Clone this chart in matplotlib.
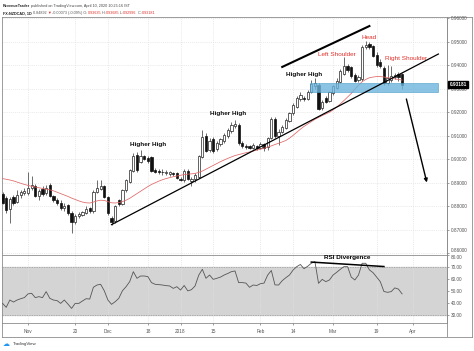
import numpy as np
import pandas as pd
import matplotlib
matplotlib.use("Agg")
import matplotlib.pyplot as plt
from matplotlib.patches import Rectangle

plt.rcParams['font.family'] = ['Liberation Sans', 'DejaVu Sans']

# forex daily bars (weekdays, no bar on Christmas / New Year)
days = pd.bdate_range("2017-10-23", "2018-04-13")
days = days.drop([pd.Timestamp("2017-12-25"), pd.Timestamp("2018-01-01")])

opens = [0.8852, 0.8834, 0.8790, 0.8841, 0.8820, 0.8848, 0.8855, 0.8858, 0.8876, 0.8885,
         0.8845, 0.8875, 0.8855, 0.8890, 0.8842, 0.8828, 0.8815, 0.8792, 0.8805, 0.8772,
         0.8735, 0.8760, 0.8765, 0.8773, 0.8792, 0.8778, 0.8862, 0.8875, 0.8885, 0.8840,
         0.8752, 0.8738, 0.8826, 0.8810, 0.8868, 0.8905, 0.8950, 0.9018, 0.8990, 0.9012,
         0.9005, 0.9008, 0.8955, 0.8952, 0.8948, 0.8940, 0.8936, 0.8942, 0.8940, 0.8918,
         0.8912, 0.8950, 0.8908, 0.8915, 0.8925, 0.9010, 0.9098, 0.9040, 0.9085, 0.9042,
         0.9065, 0.9078, 0.9098, 0.9120, 0.9140, 0.9148, 0.9070, 0.9058, 0.9055, 0.9050,
         0.9058, 0.9048, 0.9064, 0.9052, 0.9090, 0.9172, 0.9100, 0.9118, 0.9135, 0.9165,
         0.9195, 0.9224, 0.9255, 0.9262, 0.9258, 0.9285, 0.9310, 0.9318, 0.9218, 0.9262,
         0.9250, 0.9282, 0.9305, 0.9330, 0.9365, 0.9395, 0.9392, 0.9360, 0.9338, 0.9340,
         0.9478, 0.9490, 0.9480, 0.9445, 0.9415, 0.9390, 0.9325, 0.9338, 0.9350, 0.9362,
         0.93635]
highs = [0.8860, 0.8845, 0.8838, 0.8850, 0.8869, 0.8870, 0.8880, 0.8947, 0.8930, 0.8895,
         0.8872, 0.8885, 0.8890, 0.8898, 0.8850, 0.8835, 0.8825, 0.8815, 0.8810, 0.8778,
         0.8768, 0.8775, 0.8782, 0.8800, 0.8798, 0.8870, 0.8912, 0.8912, 0.8892, 0.8845,
         0.8760, 0.8806, 0.8832, 0.8875, 0.8918, 0.8960, 0.9025, 0.9030, 0.9040, 0.9020,
         0.9015, 0.9012, 0.8962, 0.8960, 0.8958, 0.8955, 0.8950, 0.8948, 0.8945, 0.8925,
         0.8960, 0.8958, 0.8925, 0.8940, 0.9020, 0.9125, 0.9110, 0.9090, 0.9095, 0.9078,
         0.9092, 0.9112, 0.9135, 0.9160, 0.9167, 0.9155, 0.9078, 0.9065, 0.9062, 0.9068,
         0.9062, 0.9072, 0.9070, 0.9096, 0.9180, 0.9182, 0.9128, 0.9148, 0.9175, 0.9203,
         0.9240, 0.9270, 0.9285, 0.9270, 0.9295, 0.9337, 0.9345, 0.9325, 0.9252, 0.9270,
         0.9292, 0.9318, 0.9345, 0.9385, 0.9435, 0.9405, 0.9398, 0.9368, 0.9358, 0.9485,
         0.9505, 0.9500, 0.9488, 0.9458, 0.9425, 0.9398, 0.9402, 0.9395, 0.9368, 0.9370,
         0.93685]
lows = [0.8808, 0.8770, 0.8728, 0.8805, 0.8812, 0.8835, 0.8848, 0.8850, 0.8870, 0.8838,
        0.8828, 0.8845, 0.8848, 0.8838, 0.8820, 0.8805, 0.8785, 0.8782, 0.8765, 0.8686,
        0.8725, 0.8752, 0.8758, 0.8768, 0.8772, 0.8770, 0.8855, 0.8870, 0.8835, 0.8765,
        0.8722, 0.8730, 0.8800, 0.8805, 0.8860, 0.8898, 0.8945, 0.8948, 0.8985, 0.8995,
        0.8985, 0.8945, 0.8940, 0.8938, 0.8935, 0.8932, 0.8928, 0.8928, 0.8915, 0.8908,
        0.8905, 0.8912, 0.8885, 0.8905, 0.8920, 0.9005, 0.9030, 0.9030, 0.9028, 0.9035,
        0.9055, 0.9070, 0.9090, 0.9112, 0.9132, 0.9062, 0.9050, 0.9045, 0.9042, 0.9045,
        0.9040, 0.9043, 0.9035, 0.9040, 0.9085, 0.9092, 0.9062, 0.9110, 0.9130, 0.9160,
        0.9190, 0.9220, 0.9250, 0.9248, 0.9252, 0.9280, 0.9298, 0.9208, 0.9210, 0.9238,
        0.9245, 0.9275, 0.9300, 0.9325, 0.9358, 0.9370, 0.9348, 0.9328, 0.9330, 0.9335,
        0.9470, 0.9470, 0.9435, 0.9392, 0.9388, 0.9318, 0.9318, 0.9330, 0.9340, 0.9335,
        0.92996]
closes = [0.8815, 0.8784, 0.8830, 0.8813, 0.8848, 0.8862, 0.8866, 0.8880, 0.8889, 0.8845,
          0.8866, 0.8852, 0.8880, 0.8842, 0.8828, 0.8812, 0.8792, 0.8802, 0.8772, 0.8732,
          0.8760, 0.8768, 0.8775, 0.8790, 0.8780, 0.8862, 0.8880, 0.8888, 0.8840, 0.8772,
          0.8735, 0.8800, 0.8810, 0.8868, 0.8910, 0.8954, 0.9015, 0.8954, 0.9012, 0.9000,
          0.8992, 0.8950, 0.8948, 0.8946, 0.8944, 0.8946, 0.8944, 0.8936, 0.8920, 0.8914,
          0.8952, 0.8918, 0.8915, 0.8932, 0.9012, 0.9095, 0.9035, 0.9080, 0.9035, 0.9070,
          0.9085, 0.9102, 0.9125, 0.9146, 0.9152, 0.9068, 0.9058, 0.9052, 0.9050, 0.9060,
          0.9048, 0.9066, 0.9050, 0.9090, 0.9172, 0.9100, 0.9118, 0.9139, 0.9167, 0.9196,
          0.9231, 0.9260, 0.9274, 0.9255, 0.9288, 0.9320, 0.9325, 0.9215, 0.9245, 0.9245,
          0.9285, 0.9310, 0.9335, 0.9375, 0.9395, 0.9380, 0.9355, 0.9335, 0.9350, 0.9478,
          0.9488, 0.9478, 0.9440, 0.9400, 0.9395, 0.9325, 0.9345, 0.9355, 0.9360, 0.9350,
          0.93181]
ma20 = [0.8918, 0.8915, 0.8912, 0.8908, 0.8903, 0.8898, 0.8893, 0.8889, 0.8885, 0.8882,
        0.8879, 0.8876, 0.8873, 0.8870, 0.8866, 0.8860, 0.8854, 0.8848, 0.8842, 0.8835,
        0.8829, 0.8823, 0.8818, 0.8815, 0.8814, 0.8818, 0.8823, 0.8826, 0.8825, 0.8820,
        0.8815, 0.8814, 0.8816, 0.8820, 0.8826, 0.8834, 0.8844, 0.8854, 0.8864, 0.8874,
        0.8884, 0.8893, 0.8900, 0.8907, 0.8913, 0.8918, 0.8922, 0.8926, 0.8929, 0.8932,
        0.8935, 0.8937, 0.8938, 0.8940, 0.8944, 0.8950, 0.8958, 0.8966, 0.8974, 0.8982,
        0.8990, 0.8997, 0.9004, 0.9010, 0.9016, 0.9020, 0.9024, 0.9028, 0.9031, 0.9035,
        0.9039, 0.9043, 0.9047, 0.9052, 0.9057, 0.9063, 0.9068, 0.9074, 0.9080, 0.9090,
        0.9102, 0.9115, 0.9128, 0.9140, 0.9150, 0.9160, 0.9170, 0.9178, 0.9186, 0.9193,
        0.9200, 0.9210, 0.9222, 0.9236, 0.9250, 0.9265, 0.9280, 0.9298, 0.9315, 0.9330,
        0.9340, 0.9347, 0.9350, 0.9352, 0.9352, 0.9350, 0.9348, 0.9345, 0.9342, 0.9340,
        0.9337]
rsi_vals = [40.1, 36.8, 42.9, 41.2, 42.9, 44.0, 44.9, 48.0, 48.5, 44.9,
            45.7, 44.9, 49.9, 44.3, 42.9, 42.4, 40.1, 42.9, 39.5, 35.9,
            40.1, 40.1, 42.1, 44.0, 43.7, 53.5, 55.4, 56.0, 50.6, 42.9,
            39.3, 41.5, 44.3, 50.6, 54.0, 58.2, 66.5, 61.0, 62.9, 62.9,
            62.4, 57.4, 56.0, 55.7, 55.4, 54.9, 54.6, 52.6, 54.0, 51.2,
            55.0, 50.5, 51.5, 54.6, 63.5, 68.5, 61.0, 63.7, 60.1, 61.0,
            62.0, 63.7, 65.0, 66.5, 67.1, 57.4, 57.4, 57.0, 53.5, 55.4,
            55.0, 56.5, 57.0, 63.7, 67.5, 55.5, 55.4, 59.0, 61.5, 63.7,
            67.9, 70.7, 72.5, 69.0, 71.0, 73.5, 74.9, 56.8, 60.1, 58.2,
            59.6, 63.7, 66.0, 68.5, 70.7, 70.7, 62.0, 59.6, 63.7, 73.5,
            73.5, 68.0, 65.7, 62.0, 58.2, 50.0, 49.3, 49.9, 53.0, 52.0,
            48.0]

price_ticks = [0.86, 0.87, 0.88, 0.89, 0.90, 0.91, 0.92, 0.93, 0.94, 0.95, 0.96]
rsi_ticks = [30, 40, 50, 60, 70, 80]
date_ticks = ["2017-11-01", "2017-11-20", "2017-12-01", "2017-12-18", "2018-01-02", "2018-01-15",
              "2018-02-01", "2018-02-14", "2018-03-01", "2018-03-19", "2018-04-02"]
date_labels = ["Nov", "20", "Dec", "18", "2018", "15", "Feb", "14", "Mar", "19", "Apr"]

# drawings on the chart (date, value)
trend_lower = (["2017-12-04", "2018-04-11"], [0.8722, 0.9448])
trend_upper = (["2018-02-09", "2018-03-15"], [0.9393, 0.9567])
arrow_down = (["2018-03-29", "2018-04-06"], [0.9268, 0.8890])
zone_days = ["2018-02-21", "2018-04-11"]
zone_prices = [0.9286, 0.9325]
rsi_div = (["2018-02-21", "2018-03-21"], [74.5, 70.8])
notes = [("Higher High", "2017-12-18", 0.9065, "#111111", "bold"),
         ("Higher High", "2018-01-19", 0.9197, "#111111", "bold"),
         ("Higher High", "2018-02-19", 0.9359, "#111111", "bold"),
         ("Left Shoulder", "2018-03-02", 0.9448, "#e0302a", "normal"),
         ("Head", "2018-03-15", 0.9520, "#e0302a", "normal"),
         ("Right Shoulder", "2018-03-29", 0.9431, "#e0302a", "normal")]

header1 = [("RevenueTrader", "#222222", "bold"),
           (" published on TradingView.com, April 10, 2020 10:25:16 IST", "#444444", "normal")]
header2 = [("FX:NZDCAD, 1D", "#222222", "bold"), (" 0.84892 ", "#555555", "normal"),
           ("\u25bc", "#e0302a", "normal"), (" -0.00073 (-0.09%) O:", "#555555", "normal"),
           ("0.93635", "#e0302a", "normal"), (" H:", "#555555", "normal"),
           ("0.93685", "#e0302a", "normal"), (" L:", "#555555", "normal"),
           ("0.92996", "#e0302a", "normal"), (" C:", "#555555", "normal"),
           ("0.93181", "#e0302a", "normal")]


def pos(d):
    return days.get_loc(pd.Timestamp(d))


W, H = 474, 351


def box(x0, y0, x1, y1):
    return [x0 / W, 1 - y1 / H, (x1 - x0) / W, (y1 - y0) / H]


def style_spines(a):
    for s in a.spines.values():
        s.set_color('#8c8c8c')
        s.set_linewidth(0.6)


fig = plt.figure(figsize=(W / 100, H / 100), dpi=100)

frame = fig.add_axes(box(2, 17, 472, 337))
frame.set_xticks([])
frame.set_yticks([])
style_spines(frame)
frame.axvline((447 - 2) / 470, color='#8c8c8c', lw=0.6)

ax = fig.add_axes(box(2, 17, 447, 255))
rs = fig.add_axes(box(2, 255, 447, 323), sharex=ax)

o, h, l, c = map(np.array, (opens, highs, lows, closes))
x = np.arange(len(c))
up = c >= o

# candles
ax.vlines(x, l, h, color='#333333', lw=0.5, zorder=2)
ax.bar(x[up], c[up] - o[up], bottom=o[up], width=0.62, color='white',
       edgecolor='#222222', linewidth=0.5, zorder=3)
ax.bar(x[~up], o[~up] - c[~up], bottom=c[~up], width=0.62, color='#111111',
       edgecolor='#111111', linewidth=0.5, zorder=3)
ax.plot(x, ma20, color='#e06666', lw=0.55, zorder=4)

# neckline zone
z0, z1 = pos(zone_days[0]) - 0.3, pos(zone_days[1])
ax.add_patch(Rectangle((z0, zone_prices[0]), z1 - z0, zone_prices[1] - zone_prices[0],
                       facecolor='#6db5dc', edgecolor='#4a9cc8', lw=0.5, alpha=0.8, zorder=5))

ax.plot([pos(d) for d in trend_lower[0]], trend_lower[1], color='black', lw=0.9, zorder=6)
ax.plot([pos(d) for d in trend_upper[0]], trend_upper[1], color='black', lw=1.5, zorder=6)
ax.annotate('', xy=(pos(arrow_down[0][1]), arrow_down[1][1]),
            xytext=(pos(arrow_down[0][0]), arrow_down[1][0]),
            arrowprops=dict(arrowstyle='-|>', color='black', lw=1.0, mutation_scale=5), zorder=6)

for txt, d, p, col, wt in notes:
    ax.text(pos(d), p, txt, color=col, fontweight=wt, fontsize=4.6,
            ha='center', va='center', zorder=7)

ax.set_xlim(-0.16, 122.37)
ax.set_ylim(0.85928, 0.96055)
ax.yaxis.tick_right()
ax.set_yticks(price_ticks)
ax.set_yticklabels(['%.5f' % v for v in price_ticks])
ax.tick_params(axis='y', labelsize=3.4, colors='#555555', length=1.5, width=0.4, pad=1.5)
ax.get_yticklabels()[0].set_va('bottom')
ax.tick_params(axis='x', length=0, labelbottom=False)
ax.set_xticks([pos(d) for d in date_ticks])
ax.grid(True, color='#e2e2e2', lw=0.5, ls=(0, (1.5, 1.5)))
ax.set_axisbelow(True)
style_spines(ax)

# last price tag
ax.text(1.006, c[-1], '%.5f' % c[-1], transform=ax.get_yaxis_transform(),
        fontsize=3.4, color='white', fontweight='bold', va='center', ha='left',
        bbox=dict(boxstyle='square,pad=0.3', fc='black', ec='black'), zorder=8)

# RSI pane
rs.axhspan(30, 70, color='#d4d4d4', zorder=0)
rs.axhline(70, color='#9a9a9a', lw=0.5, ls=(0, (2, 1.5)))
rs.axhline(30, color='#9a9a9a', lw=0.5, ls=(0, (2, 1.5)))
rs.plot(x, rsi_vals, color='#555555', lw=0.6, zorder=3)
rs.plot([pos(d) for d in rsi_div[0]], rsi_div[1], color='black', lw=1.1, zorder=4)
rs.text(pos("2018-03-07"), 78.7, 'RSI Divergence', fontsize=4.6, fontweight='bold',
        ha='center', va='center', zorder=5)
rs.set_ylim(23.75, 80.4)
rs.yaxis.tick_right()
rs.set_yticks(rsi_ticks)
rs.set_yticklabels(['%.2f' % v for v in rsi_ticks])
rs.tick_params(axis='y', labelsize=3.4, colors='#555555', length=1.5, width=0.4, pad=1.5)
rs.get_yticklabels()[-1].set_va('top')
rs.set_xticks([pos(d) for d in date_ticks])
rs.set_xticklabels(date_labels)
rs.tick_params(axis='x', labelsize=3.4, colors='#555555', length=1.5, width=0.4, pad=2.5)
rs.grid(True, axis='x', color='#e2e2e2', lw=0.5, ls=(0, (1.5, 1.5)))
style_spines(rs)

# header lines, pieces chained left to right
for parts, ypix in ((header1, 7), (header2, 14)):
    s, col, wt = parts[0]
    prev = fig.text(3 / W, 1 - ypix / H, s, fontsize=2.7, fontweight=wt, color=col)
    for s, col, wt in parts[1:]:
        prev = rs.annotate(s, xy=(1, 0), xycoords=prev, fontsize=2.7, color=col,
                           fontweight=wt, va='bottom', annotation_clip=False)

# footer logo
fig.text(3 / W, 1 - 344 / H, '\u2601', fontsize=5, color='#2196f3', family='DejaVu Sans',
         va='center')
fig.text(13 / W, 1 - 344 / H, 'TradingView', fontsize=3.2, color='#333333', va='center')

fig.savefig('out.png', dpi=100)
